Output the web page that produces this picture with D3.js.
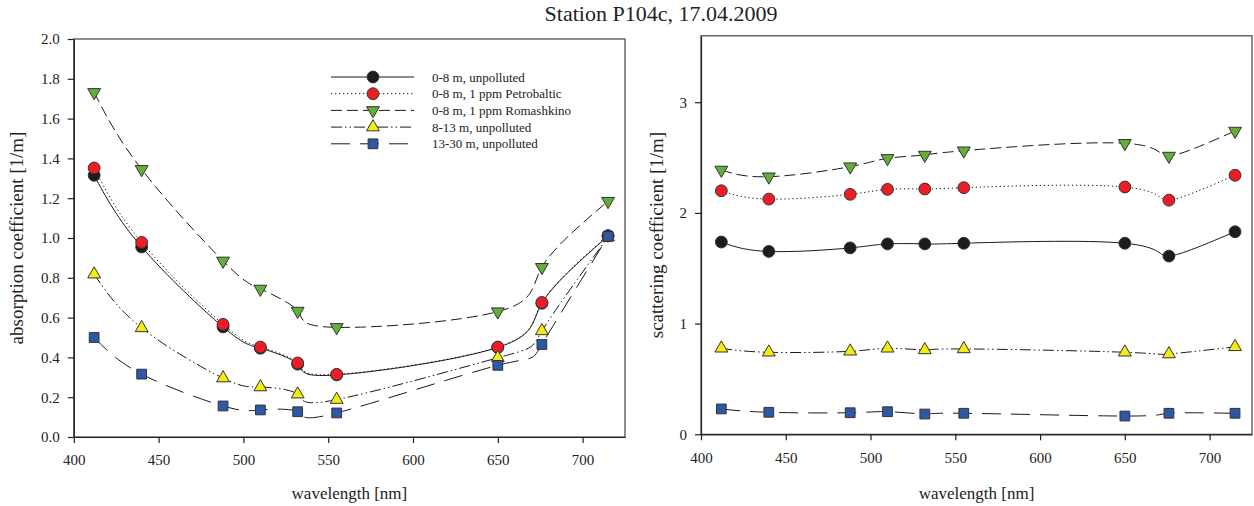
<!DOCTYPE html>
<html>
<head>
<meta charset="utf-8">
<script src="https://cdn.jsdelivr.net/npm/d3@7"></script>
<style>
  html, body { margin: 0; padding: 0; background: #fff; }
  svg, svg text { font-family: "Liberation Serif", "Times New Roman", serif !important; }
  svg { display: block; }
</style>
</head>
<body>
<svg id="chart" width="1254" height="506"></svg>
<script>
// Wavelengths of the measurement channels [nm]
const wavelengths = [412, 440, 488, 510, 532, 555, 650, 676, 715];

// Series labels
const seriesNames = [
  "0-8 m, unpolluted",
  "0-8 m, 1 ppm Petrobaltic",
  "0-8 m, 1 ppm Romashkino",
  "8-13 m, unpolluted",
  "13-30 m, unpolluted"
];

// Absorption coefficient [1/m]
const absUnpolluted08   = [1.315, 0.955, 0.553, 0.446, 0.366, 0.312, 0.450, 0.672, 1.010];
const absPetrobaltic08  = [1.352, 0.978, 0.566, 0.452, 0.372, 0.315, 0.452, 0.676, 1.012];
const absRomashkino08   = [1.732, 1.345, 0.885, 0.744, 0.633, 0.551, 0.630, 0.853, 1.185];
const absUnpolluted813  = [0.818, 0.548, 0.296, 0.251, 0.215, 0.188, 0.398, 0.533, 1.005];
const absUnpolluted1330 = [0.500, 0.316, 0.156, 0.136, 0.127, 0.121, 0.360, 0.465, 1.008];

// Scattering coefficient [1/m]
const scaUnpolluted08   = [1.737, 1.652, 1.684, 1.720, 1.720, 1.726, 1.726, 1.610, 1.830];
const scaPetrobaltic08  = [2.200, 2.125, 2.168, 2.213, 2.216, 2.228, 2.234, 2.115, 2.340];
const scaRomashkino08   = [2.388, 2.327, 2.418, 2.493, 2.523, 2.562, 2.629, 2.514, 2.740];
const scaUnpolluted813  = [0.777, 0.741, 0.750, 0.777, 0.762, 0.771, 0.741, 0.725, 0.790];
const scaUnpolluted1330 = [0.229, 0.199, 0.195, 0.204, 0.183, 0.190, 0.165, 0.190, 0.190];

// Axis ticks
const xTicks = [400, 450, 500, 550, 600, 650, 700];
const absTicks = [0.0, 0.2, 0.4, 0.6, 0.8, 1.0, 1.2, 1.4, 1.6, 1.8, 2.0];
const scaTicks = [0, 1, 2, 3];

// Visual style per series: symbol, fill, line pattern
const seriesStyle = [
  { symbol: d3.symbolCircle,   fill: "#1c1c1c", dash: null,                rot: 0,   size: 110 },
  { symbol: d3.symbolCircle,   fill: "#ee1c25", dash: "1.3,2.7",           rot: 0,   size: 110 },
  { symbol: d3.symbolTriangle, fill: "#62b03a", dash: "11,5",              rot: 180, size: 72 },
  { symbol: d3.symbolTriangle, fill: "#f4ec10", dash: "11,3,1.5,3,1.5,3",  rot: 0,   size: 72 },
  { symbol: d3.symbolSquare,   fill: "#2c58a6", dash: "19,10",             rot: 0,   size: 95 }
];

const absSeries = [absUnpolluted08, absPetrobaltic08, absRomashkino08, absUnpolluted813, absUnpolluted1330];
const scaSeries = [scaUnpolluted08, scaPetrobaltic08, scaRomashkino08, scaUnpolluted813, scaUnpolluted1330];

const svg = d3.select("#chart");
svg.append("rect").attr("width", 1254).attr("height", 506).attr("fill", "#fff");

svg.append("text")
  .attr("x", 661).attr("y", 21)
  .attr("text-anchor", "middle")
  .attr("font-size", 22)
  .attr("fill", "#222")
  .text("Station P104c, 17.04.2009");

function drawPanel(opts) {
  const { left, right, top, bottom, yMax, yTicks, yFormat, series, yTitle, yTitleX, xPad } = opts;
  const x = d3.scaleLinear().domain([400, 725]).range([left, right]);
  const y = d3.scaleLinear().domain([0, yMax]).range([bottom, top]);
  const g = svg.append("g");

  // frame
  g.append("rect")
    .attr("x", left).attr("y", top)
    .attr("width", right - left).attr("height", bottom - top)
    .attr("fill", "none").attr("stroke", "#444").attr("stroke-width", 1.2);

  const xAxis = g.append("g")
    .attr("transform", `translate(0,${bottom})`)
    .call(d3.axisBottom(x).tickValues(xTicks).tickSize(6).tickSizeOuter(0).tickPadding(xPad));
  const yAxis = g.append("g")
    .attr("transform", `translate(${left},0)`)
    .call(d3.axisLeft(y).tickValues(yTicks).tickFormat(yFormat).tickSize(6).tickSizeOuter(0).tickPadding(8));
  [xAxis, yAxis].forEach(a => {
    a.attr("font-family", null);
    a.select(".domain").attr("stroke", "#222").attr("stroke-width", 1.2);
    a.selectAll(".tick line").attr("stroke", "#222").attr("stroke-width", 1.2);
    a.selectAll(".tick text").attr("font-size", 15).attr("fill", "#222");
  });

  g.append("text")
    .attr("x", (left + right) / 2).attr("y", 499)
    .attr("text-anchor", "middle").attr("font-size", 17).attr("fill", "#222")
    .text("wavelength [nm]");
  g.append("text")
    .attr("transform", `translate(${yTitleX},${(top + bottom) / 2}) rotate(-90)`)
    .attr("text-anchor", "middle").attr("font-size", 19).attr("fill", "#222")
    .text(yTitle);

  const line = d3.line()
    .x((d, i) => x(wavelengths[i]))
    .y(d => y(d))
    .curve(d3.curveNatural);

  series.forEach((vals, si) => {
    const st = seriesStyle[si];
    g.append("path")
      .attr("d", line(vals))
      .attr("fill", "none")
      .attr("stroke", "#1a1a1a")
      .attr("stroke-width", 1)
      .attr("stroke-dasharray", st.dash);
  });
  series.forEach((vals, si) => {
    const st = seriesStyle[si];
    const sym = d3.symbol().type(st.symbol).size(st.size);
    g.append("g").selectAll("path")
      .data(vals)
      .join("path")
      .attr("d", sym)
      .attr("transform", (d, i) => `translate(${x(wavelengths[i])},${y(d)}) rotate(${st.rot})`)
      .attr("fill", st.fill)
      .attr("stroke", "#333")
      .attr("stroke-width", 1);
  });
  return { x, y };
}

drawPanel({
  left: 73.8, right: 625, top: 39, bottom: 437,
  yMax: 2.0, yTicks: absTicks, yFormat: d3.format(".1f"),
  series: absSeries, yTitle: "absorption coefficient [1/m]", yTitleX: 23, xPad: 11
});
drawPanel({
  left: 701, right: 1252, top: 35.8, bottom: 434.3,
  yMax: 3.6, yTicks: scaTicks, yFormat: d3.format("d"),
  series: scaSeries, yTitle: "scattering coefficient [1/m]", yTitleX: 663, xPad: 12
});

// Legend (left panel)
const legend = svg.append("g");
seriesNames.forEach((name, i) => {
  const yy = 77 + i * 16.7;
  const st = seriesStyle[i];
  legend.append("line")
    .attr("x1", 331).attr("x2", 414).attr("y1", yy).attr("y2", yy)
    .attr("stroke", "#1a1a1a").attr("stroke-width", 1)
    .attr("stroke-dasharray", st.dash);
  legend.append("path")
    .attr("d", d3.symbol().type(st.symbol).size(st.size)())
    .attr("transform", `translate(373,${yy}) rotate(${st.rot})`)
    .attr("fill", st.fill).attr("stroke", "#333").attr("stroke-width", 1);
  legend.append("text")
    .attr("x", 432).attr("y", yy).attr("dy", "0.35em")
    .attr("font-size", 13).attr("fill", "#222")
    .text(name);
});
</script>
</body>
</html>
